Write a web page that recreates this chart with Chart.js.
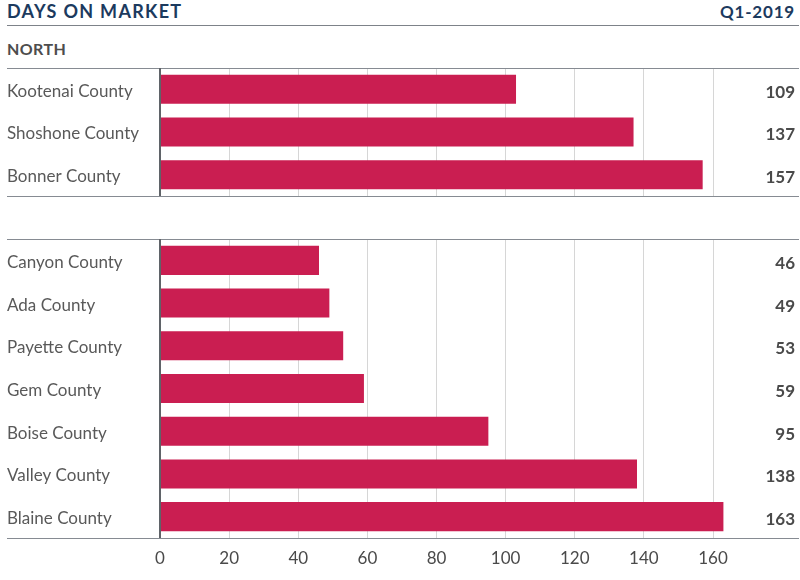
<!DOCTYPE html>
<html>
<head>
<meta charset="utf-8">
<script src="https://cdn.jsdelivr.net/npm/chart.js@4"></script>
<style>
  body { margin: 0; background: #fff; font-family: Lato, sans-serif; }
  #page { position: relative; width: 800px; height: 580px; overflow: hidden; }
  .txt { position: absolute; white-space: nowrap; line-height: 1; }
  .head { font-weight: bold; color: #1c3a5e; top: 3px; }
  .rule { position: absolute; left: 7px; width: 792px; height: 1px; background: #7d8289; }
  .box { position: absolute; left: 0; width: 800px; }
</style>
</head>
<body>
<div id="page">
  <div class="txt head" style="left:7px; font-size:18px; letter-spacing:1.3px; top:2px">DAYS ON MARKET</div>
  <div class="txt head" style="right:5px; font-size:17px; letter-spacing:0.8px">Q1-2019</div>
  <div class="rule" style="top:25px"></div>
  <div class="txt" style="left:7px; top:41px; font-size:16px; font-weight:bold; color:#4d4d4d; letter-spacing:0.4px">NORTH</div>
  <div class="box" style="top:0; height:210px"><canvas id="northChart"></canvas></div>
  <div class="box" style="top:210px; height:370px"><canvas id="southChart"></canvas></div>
</div>
<script>
// North group
const northCounties = ['Kootenai County', 'Shoshone County', 'Bonner County'];
const northDays = [103, 137, 157];          // bar lengths as drawn
const northLabels = ['109', '137', '157'];  // numbers printed at the right

// Second group
const southCounties = ['Canyon County', 'Ada County', 'Payette County', 'Gem County', 'Boise County', 'Valley County', 'Blaine County'];
const southDays = [46, 49, 53, 59, 95, 138, 163];
const southLabels = ['46', '49', '53', '59', '95', '138', '163'];

const xTickValues = [0, 20, 40, 60, 80, 100, 120, 140, 160];

const BAR_COLOR = '#ca1e51';
const TEXT_COLOR = '#4a4a4a';

// Panel rules and the printed values on the right
const panelPlugin = {
    id: 'panelPlugin',
    afterDatasetsDraw(chart, args, opts) {
        const ctx = chart.ctx;
        const area = chart.chartArea;
        ctx.save();
        ctx.strokeStyle = '#868b92';
        ctx.lineWidth = 1;
        [area.top, area.bottom].forEach(y => {
            ctx.beginPath();
            ctx.moveTo(7, Math.round(y) + 0.5);
            ctx.lineTo(799, Math.round(y) + 0.5);
            ctx.stroke();
        });
        // y axis line drawn again on top
        ctx.strokeStyle = '#5f6368';
        ctx.lineWidth = 2;
        ctx.beginPath();
        ctx.moveTo(area.left, area.top);
        ctx.lineTo(area.left, area.bottom);
        ctx.stroke();

        ctx.fillStyle = TEXT_COLOR;
        ctx.font = 'bold 17px Lato';
        ctx.textAlign = 'right';
        ctx.textBaseline = 'middle';
        chart.getDatasetMeta(0).data.forEach((bar, i) => {
            ctx.fillText(opts.labels[i], 795, bar.y + 3);
        });
        ctx.restore();
    }
};

function makeChart(id, counties, days, labels, padTop, showTicks) {
    return new Chart(document.getElementById(id), {
        type: 'bar',
        data: {
            labels: counties,
            datasets: [{
                data: days,
                backgroundColor: BAR_COLOR,
                borderWidth: 0,
                categoryPercentage: 1,
                barPercentage: 0.68
            }]
        },
        plugins: [panelPlugin],
        options: {
            indexAxis: 'y',
            responsive: true,
            maintainAspectRatio: false,
            animation: false,
            layout: { padding: { top: padTop, left: 7, right: 4, bottom: 0 } },
            plugins: {
                legend: { display: false },
                tooltip: { enabled: false },
                panelPlugin: { labels: labels }
            },
            scales: {
                x: {
                    min: 0,
                    max: 184,
                    afterBuildTicks: axis => {
                        axis.ticks = xTickValues.map(v => ({ value: v }));
                    },
                    afterFit: scale => { scale.height = showTicks ? 42 : 14; },
                    grid: { color: '#d6d6d6', lineWidth: 1, drawTicks: false },
                    border: { display: false },
                    ticks: {
                        display: showTicks,
                        padding: 10,
                        color: TEXT_COLOR,
                        font: { family: 'Lato', size: 17 }
                    }
                },
                y: {
                    afterFit: scale => { scale.width = 153; },
                    grid: { display: false, drawTicks: false },
                    border: { display: false },
                    ticks: {
                        crossAlign: 'far',
                        labelOffset: 2,
                        color: '#595959',
                        font: { family: 'Lato', size: 17 }
                    }
                }
            }
        }
    });
}

makeChart('northChart', northCounties, northDays, northLabels, 68, false);
makeChart('southChart', southCounties, southDays, southLabels, 29, true);
</script>
</body>
</html>
